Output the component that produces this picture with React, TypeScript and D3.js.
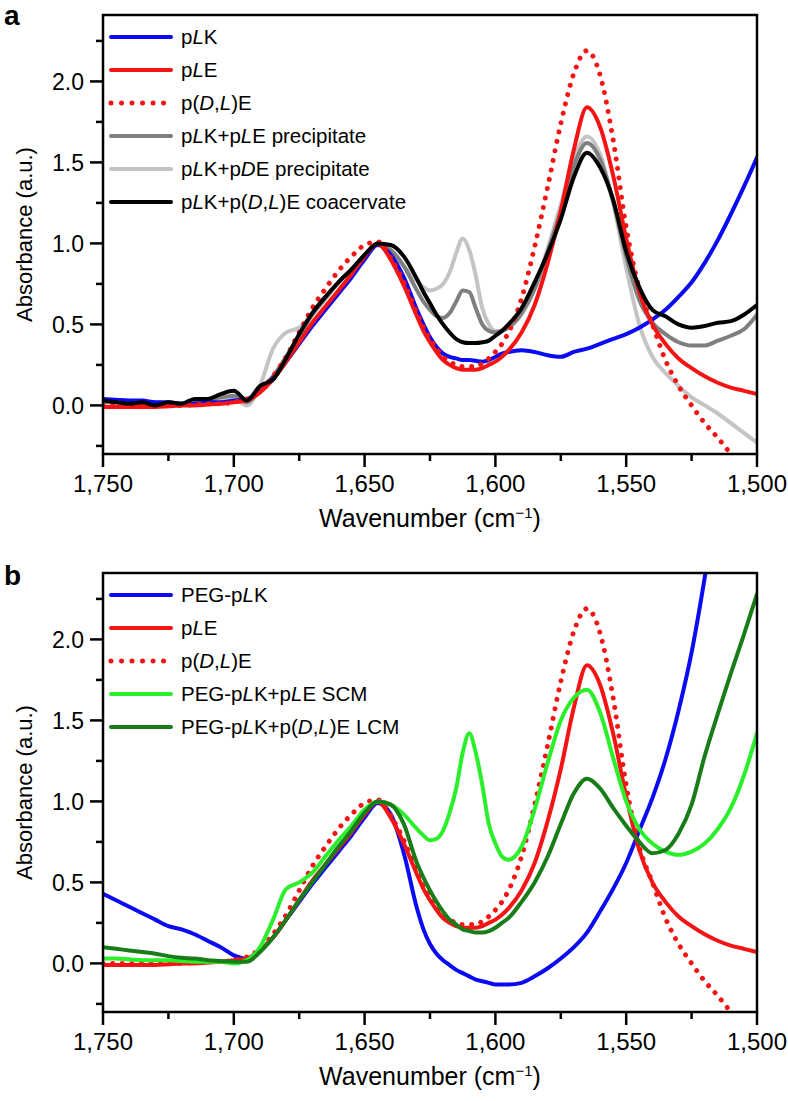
import React from 'react';
import * as d3 from 'd3';

// Wavenumber grid (cm^-1)
const wavenumbers = [
  1750, 1745, 1740, 1735, 1730, 1725, 1720, 1715, 1710, 1705, 1700,
  1695, 1690, 1685, 1680, 1675, 1670, 1665, 1660, 1655, 1650, 1645, 1640, 1635, 1630,
  1627.5, 1625, 1622.5, 1620, 1617.5, 1615, 1612.5, 1610, 1607.5, 1605, 1602.5, 1600, 1597.5,
  1595, 1590, 1585, 1580, 1575, 1570, 1565, 1560, 1555, 1550, 1545, 1540, 1535, 1530, 1525,
  1520, 1515, 1510, 1505, 1500,
];

// Panel a series
const pLK = [
  0.04, 0.035, 0.03, 0.03, 0.02, 0.02, 0.01, 0.01, 0.02, 0.02, 0.03,
  0.04, 0.09, 0.17, 0.27, 0.38, 0.49, 0.59, 0.69, 0.79, 0.9, 0.99, 0.93, 0.79, 0.59,
  0.5, 0.42, 0.36, 0.32, 0.3, 0.29, 0.28, 0.28, 0.275, 0.27, 0.28, 0.3, 0.32,
  0.33, 0.34, 0.33, 0.31, 0.3, 0.33, 0.35, 0.38, 0.41, 0.44, 0.48, 0.53, 0.59, 0.67, 0.76,
  0.88, 1.02, 1.18, 1.35, 1.53,
];
const pLE = [
  -0.01, -0.01, -0.01, -0.01, -0.01, -0.005, 0, 0, 0.005, 0.01, 0.02,
  0.03, 0.08, 0.16, 0.27, 0.39, 0.51, 0.61, 0.71, 0.81, 0.92, 1.0, 0.9, 0.74, 0.55,
  0.46, 0.39, 0.33, 0.28, 0.25, 0.23, 0.22, 0.22, 0.22, 0.23, 0.25, 0.27, 0.3,
  0.34, 0.45, 0.62, 0.88, 1.2, 1.58, 1.84, 1.72, 1.42, 1.03, 0.7, 0.5, 0.38, 0.29, 0.23,
  0.18, 0.14, 0.11, 0.09, 0.07,
];
const pDLE = [
  0, 0, 0, 0, 0, 0, 0, 0.005, 0.01, 0.01, 0.02,
  0.04, 0.09, 0.18, 0.3, 0.45, 0.6, 0.72, 0.83, 0.92, 0.99, 1.01, 0.91, 0.76, 0.57,
  0.48, 0.41, 0.35, 0.3, 0.27, 0.25, 0.24, 0.24, 0.24, 0.26, 0.29, 0.33, 0.38,
  0.45, 0.66, 0.98, 1.35, 1.74, 2.05, 2.19, 2.04, 1.64, 1.1, 0.72, 0.5, 0.28, 0.12, 0.0,
  -0.11, -0.2, -0.3, -0.4, -0.5,
];
const precipLL = [
  0.02, 0.02, 0.01, 0.01, 0.01, 0.01, 0.01, 0.02, 0.03, 0.05, 0.06,
  0.02, 0.1, 0.18, 0.3, 0.43, 0.56, 0.66, 0.76, 0.84, 0.92, 1.0, 0.96, 0.86, 0.71,
  0.64, 0.59, 0.55, 0.54, 0.57, 0.64, 0.71, 0.7, 0.6, 0.5, 0.46, 0.45, 0.46,
  0.48, 0.57, 0.72, 0.95, 1.2, 1.48, 1.62, 1.52, 1.26, 0.92, 0.65, 0.51, 0.44, 0.39, 0.37,
  0.37, 0.4, 0.43, 0.47, 0.56,
];
const precipLD = [
  0.02, 0.02, 0.02, 0.02, 0.02, 0.01, 0.01, 0.02, 0.03, 0.04, 0.04,
  0.0, 0.12, 0.35, 0.45, 0.48, 0.56, 0.66, 0.76, 0.84, 0.92, 1.0, 0.95, 0.86, 0.77,
  0.73, 0.71, 0.72, 0.75, 0.82, 0.94, 1.03, 0.96, 0.8, 0.6, 0.5, 0.46, 0.46,
  0.48, 0.56, 0.72, 0.97, 1.24, 1.52, 1.66, 1.55, 1.25, 0.85, 0.5, 0.3, 0.2, 0.12, 0.05,
  0.0, -0.05, -0.11, -0.17, -0.23,
];
const coacervate = [
  0.03, 0.02, 0.01, 0.02, 0.0, 0.02, 0.01, 0.04, 0.04, 0.07, 0.09,
  0.03, 0.12, 0.16, 0.29, 0.44, 0.57, 0.67, 0.76, 0.84, 0.93, 1.0, 0.99, 0.92, 0.78,
  0.7, 0.63, 0.56, 0.5, 0.45, 0.41, 0.39, 0.385, 0.385, 0.39, 0.4, 0.43, 0.46,
  0.5, 0.6, 0.76, 0.94, 1.15, 1.41, 1.56, 1.47, 1.27, 0.95, 0.73, 0.59, 0.55, 0.5, 0.48,
  0.49, 0.51, 0.52, 0.56, 0.62,
];

// Panel b series
const pegPLK = [
  0.43, 0.39, 0.35, 0.31, 0.27, 0.23, 0.21, 0.18, 0.14, 0.1, 0.05,
  0.03, 0.08, 0.16, 0.27, 0.38, 0.49, 0.59, 0.69, 0.79, 0.9, 0.99, 0.92, 0.68, 0.34,
  0.21, 0.12, 0.06, 0.02, -0.01, -0.04, -0.06, -0.08, -0.1, -0.11, -0.12, -0.13, -0.13,
  -0.13, -0.12, -0.08, -0.03, 0.03, 0.1, 0.19, 0.32, 0.46, 0.62, 0.82, 1.02, 1.26, 1.56, 1.92,
  2.38, 2.9, 3.4, 3.9, 4.4,
];
const scm = [
  0.03, 0.03, 0.025, 0.02, 0.02, 0.02, 0.015, 0.01, 0.01, 0.01, 0.0,
  0.02, 0.1, 0.27, 0.46, 0.5, 0.56, 0.66, 0.76, 0.85, 0.95, 1.0, 0.98, 0.92, 0.83,
  0.79, 0.76, 0.77, 0.82, 0.93, 1.08, 1.3, 1.42, 1.3, 1.1, 0.86, 0.74, 0.66,
  0.64, 0.72, 0.95, 1.24, 1.5, 1.64, 1.69, 1.55, 1.27, 1.0, 0.83, 0.74, 0.69, 0.67, 0.69,
  0.74, 0.83, 0.96, 1.16, 1.42,
];
const lcm = [
  0.1, 0.09, 0.08, 0.07, 0.06, 0.045, 0.035, 0.03, 0.02, 0.015, 0.01,
  0.01, 0.07, 0.16, 0.27, 0.39, 0.5, 0.61, 0.72, 0.82, 0.93, 1.0, 0.98, 0.86, 0.62,
  0.53, 0.45, 0.38, 0.32, 0.27, 0.24, 0.21, 0.2, 0.19, 0.19, 0.2, 0.22, 0.25,
  0.28, 0.38, 0.5, 0.66, 0.86, 1.05, 1.14, 1.08, 0.96, 0.85, 0.75, 0.68, 0.7, 0.8, 0.98,
  1.28, 1.54, 1.79, 2.03, 2.28,
];

const xMajorTicks = [1750, 1700, 1650, 1600, 1550, 1500];
const xMinorTicks = [1725, 1675, 1625, 1575, 1525];
const yMajorTicks = [0, 0.5, 1.0, 1.5, 2.0];
const yMinorTicks = [-0.25, 0.25, 0.75, 1.25, 1.75, 2.25];

const BLUE = '#0a0af5';
const RED = '#f51414';
const DKGRAY = '#7f7f7f';
const LTGRAY = '#c4c4c4';
const BLACK = '#000000';
const GREEN = '#2bef2b';
const DKGREEN = '#187c18';

type Series = { label: string; values: number[]; color: string; dotted?: boolean };

// legend order
const seriesA: Series[] = [
  { label: 'p_L_K', values: pLK, color: BLUE },
  { label: 'p_L_E', values: pLE, color: RED },
  { label: 'p(_D_,_L_)E', values: pDLE, color: RED, dotted: true },
  { label: 'p_L_K+p_L_E precipitate', values: precipLL, color: DKGRAY },
  { label: 'p_L_K+p_D_E precipitate', values: precipLD, color: LTGRAY },
  { label: 'p_L_K+p(_D_,_L_)E coacervate', values: coacervate, color: BLACK },
];
const drawOrderA = [4, 3, 0, 1, 2, 5];

const seriesB: Series[] = [
  { label: 'PEG-p_L_K', values: pegPLK, color: BLUE },
  { label: 'p_L_E', values: pLE, color: RED },
  { label: 'p(_D_,_L_)E', values: pDLE, color: RED, dotted: true },
  { label: 'PEG-p_L_K+p_L_E SCM', values: scm, color: GREEN },
  { label: 'PEG-p_L_K+p(_D_,_L_)E LCM', values: lcm, color: DKGREEN },
];
const drawOrderB = [0, 1, 2, 3, 4];

const SANS = "'Liberation Sans', Arial, Helvetica, sans-serif";
const NARROW = "'Liberation Sans Narrow', 'Arial Narrow', 'Liberation Sans', sans-serif";

const LEFT = 103;
const RIGHT = 757;
const PANEL_H = 439;
const LW = 4;

function RichLabel({ text, x, y }: { text: string; x: number; y: number }) {
  const parts = text.split('_');
  return (
    <text x={x} y={y} fontFamily={SANS} fontSize={20.5} fill="#000">
      {parts.map((p, i) => (
        <tspan key={i} fontStyle={i % 2 === 1 ? 'italic' : 'normal'}>{p}</tspan>
      ))}
    </text>
  );
}

function Panel({ top, letter, letterY, series, order, clipId }: {
  top: number; letter: string; letterY: number; series: Series[]; order: number[]; clipId: string;
}) {
  const bottom = top + PANEL_H;
  const x = d3.scaleLinear().domain([1750, 1500]).range([LEFT, RIGHT]);
  const y = d3.scaleLinear().domain([-0.3, 2.41]).range([bottom, top]);
  const line = d3.line<number>()
    .x((_, i) => x(wavenumbers[i]))
    .y((d) => y(d))
    .curve(d3.curveMonotoneX);
  const fmt = d3.format(',');
  const midY = (top + bottom) / 2;
  const legendTop = top + 22;
  const rowH = 33;
  return (
    <g>
      <defs>
        <clipPath id={clipId}>
          <rect x={LEFT} y={top} width={RIGHT - LEFT} height={bottom - top} />
        </clipPath>
      </defs>
      <text x={4} y={letterY} fontFamily={SANS} fontWeight="bold" fontSize={28}>{letter}</text>
      <g clipPath={`url(#${clipId})`}>
        {order.map((k) => {
          const s = series[k];
          return (
            <path key={k} d={line(s.values) || ''} fill="none" stroke={s.color}
              strokeWidth={s.dotted ? 5 : LW}
              strokeDasharray={s.dotted ? '0.01 9.6' : undefined}
              strokeLinecap="round" strokeLinejoin="round" />
          );
        })}
      </g>
      {/* legend */}
      {series.map((s, i) => {
        const ly = legendTop + i * rowH;
        return (
          <g key={i}>
            <line x1={111} x2={s.dotted ? 164 : 171} y1={ly} y2={ly}
              stroke={s.color} strokeWidth={s.dotted ? 5 : LW}
              strokeDasharray={s.dotted ? '0.01 10.5' : undefined} strokeLinecap="round" />
            <RichLabel text={s.label} x={181} y={ly + 7} />
          </g>
        );
      })}
      {/* frame */}
      <rect x={LEFT} y={top} width={RIGHT - LEFT} height={bottom - top} fill="none" stroke="#000" strokeWidth={2.5} />
      {/* y ticks */}
      {yMajorTicks.map((t) => (
        <g key={'ym' + t}>
          <line x1={LEFT - 13} x2={LEFT} y1={y(t)} y2={y(t)} stroke="#000" strokeWidth={2.5} />
          <text x={LEFT - 19} y={y(t)} dy="0.36em" textAnchor="end" fontFamily={SANS} fontSize={23}>{t.toFixed(1)}</text>
        </g>
      ))}
      {yMinorTicks.map((t) => (
        <line key={'yn' + t} x1={LEFT - 7} x2={LEFT} y1={y(t)} y2={y(t)} stroke="#000" strokeWidth={2.5} />
      ))}
      {/* x ticks */}
      {xMajorTicks.map((t) => (
        <g key={'xm' + t}>
          <line x1={x(t)} x2={x(t)} y1={bottom} y2={bottom + 13} stroke="#000" strokeWidth={2.5} />
          <text x={x(t)} y={bottom + 38} textAnchor="middle" fontFamily={NARROW} fontSize={24}>{fmt(t)}</text>
        </g>
      ))}
      {xMinorTicks.map((t) => (
        <line key={'xn' + t} x1={x(t)} x2={x(t)} y1={bottom} y2={bottom + 7} stroke="#000" strokeWidth={2.5} />
      ))}
      {/* axis titles */}
      <text transform={`translate(24,${midY}) rotate(-90)`} textAnchor="middle" dy="0.36em" fontFamily={SANS} fontSize={22}>
        Absorbance (a.u.)
      </text>
      <text x={(LEFT + RIGHT) / 2} y={bottom + 73} textAnchor="middle" fontFamily={NARROW} fontSize={25}>
        Wavenumber (cm<tspan dy={-9} fontSize={15}>−1</tspan><tspan dy={9}>)</tspan>
      </text>
    </g>
  );
}

export default function App() {
  return (
    <svg width={788} height={1101} viewBox="0 0 788 1101"
      style={{ position: 'absolute', left: 0, top: 0, display: 'block', background: '#fff' }}>
      <rect x={0} y={0} width={788} height={1101} fill="#fff" />
      <Panel top={15} letter="a" letterY={25} series={seriesA} order={drawOrderA} clipId="clipA" />
      <Panel top={573} letter="b" letterY={585} series={seriesB} order={drawOrderB} clipId="clipB" />
    </svg>
  );
}
